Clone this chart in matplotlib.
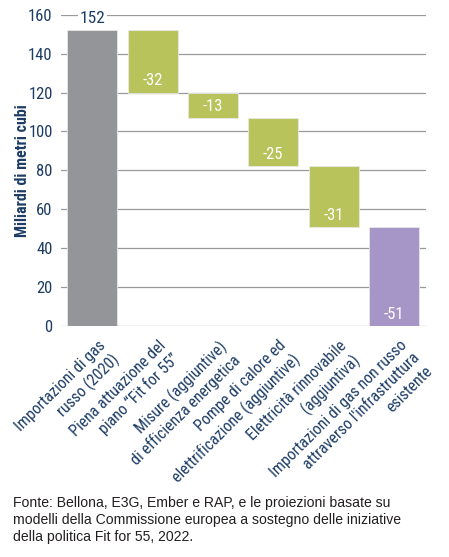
import matplotlib.pyplot as plt
import matplotlib.transforms as mtransforms
import numpy as np

labels = ['Importazioni di gas\nrusso (2020)',
          'Piena attuazione del\npiano \u201cFit for 55\u201d',
          'Misure (aggiuntive)\ndi efficienza energetica',
          'Pompe di calore ed\nelettrificazione (aggiuntive)',
          'Elettricità rinnovabile\n(aggiuntiva)',
          'Importazioni di gas non russo\nattraverso l\'infrastruttura\nesistente']
values = [152, -32, -13, -25, -31, -51]
kinds = ['total', 'step', 'step', 'step', 'step', 'end']

colors = {'total': '#939598', 'step': '#b8c35c', 'end': '#a695c7'}
navy = '#1d3d66'
narrow = ['Roboto Condensed', 'DejaVu Sans']

# waterfall bottoms/heights
bottoms, heights = [], []
level = 0
for v, k in zip(values, kinds):
    if k == 'total':
        bottoms.append(0); heights.append(v); level = v
    elif k == 'step':
        level += v
        bottoms.append(level); heights.append(-v)
    else:
        bottoms.append(0); heights.append(level)

fig = plt.figure(figsize=(4.49, 5.57), dpi=100)
ax = fig.add_axes([61/449, 1-326/557, (426-61)/449, (326-14.7)/557])
x = np.arange(len(values))
ax.bar(x, heights, bottom=bottoms, width=0.83,
       color=[colors[k] for k in kinds], edgecolor='#e8e8e8', linewidth=0.6, zorder=3)

ax.set_xlim(-0.52, 5.53)
ax.set_ylim(0, 160)
ax.set_yticks(np.arange(0, 161, 20))
ax.grid(axis='y', color='#9a9a9a', linewidth=0.9, zorder=0)
ax.set_axisbelow(True)
for s in ax.spines.values():
    s.set_visible(False)
ax.tick_params(axis='y', length=0, pad=6, labelsize=12, labelcolor=navy)
for t in ax.get_yticklabels():
    t.set_fontfamily(narrow)
ax.tick_params(axis='x', length=0)
ax.set_xticks(x)
ax.set_xticklabels(labels, rotation=45, ha='right', va='top', rotation_mode='anchor',
                   multialignment='right', fontsize=11.5, color=navy, family=narrow,
                   linespacing=1.25)
off = mtransforms.ScaledTranslation(5/100, -7/100, fig.dpi_scale_trans)
for t in ax.get_xticklabels():
    t.set_transform(t.get_transform() + off)

ax.set_ylabel('Miliardi di metri cubi', fontsize=11.5, fontweight='bold', color=navy,
              family=narrow, labelpad=-1)

for i, (v, k) in enumerate(zip(values, kinds)):
    if k == 'total':
        ax.text(i, v + 2, f'{v}', ha='center', va='bottom', fontsize=12.5, color=navy,
                family=narrow, zorder=4,
                bbox=dict(facecolor='white', edgecolor='none', pad=1))
    else:
        ax.text(i, bottoms[i] + 6, f'{v}', ha='center', va='center', fontsize=12,
                color='white', family=narrow, zorder=4)

fig.text(13/449, 1-520/557, 'Fonte: Bellona, E3G, Ember e RAP, e le proiezioni basate su\n'
         'modelli della Commissione europea a sostegno delle iniziative\n'
         'della politica Fit for 55, 2022.', ha='left', va='center', fontsize=10.1,
         color='#231f20', family=['Liberation Sans', 'DejaVu Sans'], linespacing=1.3)

fig.savefig('out.png', dpi=100)
